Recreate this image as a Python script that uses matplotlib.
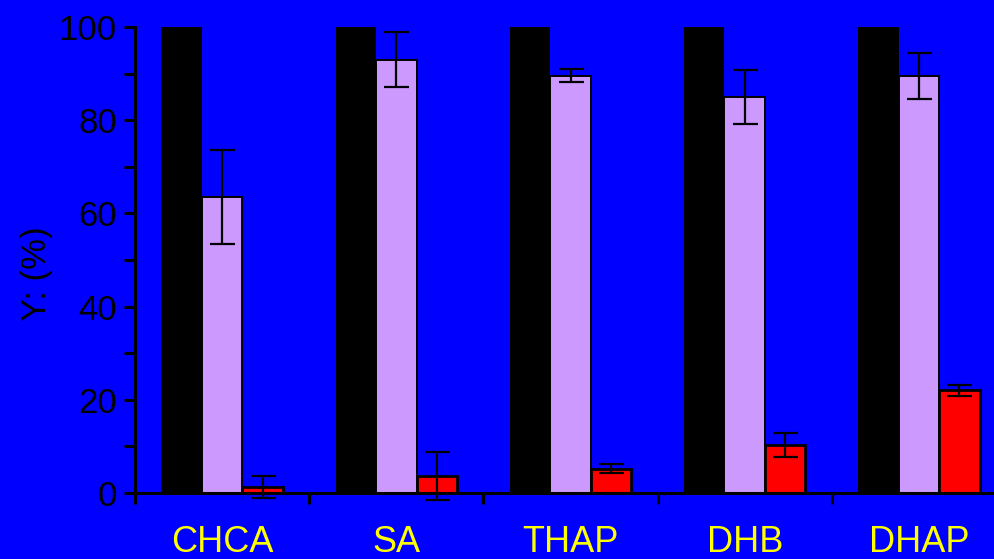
import numpy as np
import matplotlib
matplotlib.use("Agg")
import matplotlib.pyplot as plt

plt.rcParams['font.family'] = ['Liberation Sans', 'DejaVu Sans']

matrices = ["CHCA", "SA", "THAP", "DHB", "DHAP"]
black_vals = [100, 100, 100, 100, 100]
lilac_vals = [63.5, 93.0, 89.5, 85.0, 89.5]
lilac_err = [10.0, 5.9, 1.4, 5.8, 5.0]
red_vals = [1.3, 3.6, 5.2, 10.3, 22.0]
red_err = [2.3, 5.2, 1.0, 2.6, 1.1]

W, H = 994, 559
fig = plt.figure(figsize=(W / 100, H / 100), dpi=100, facecolor='#0000FF')
ax = fig.add_axes([135 / W, (H - 493) / H, 871 / W, 466 / H])
ax.set_facecolor('#0000FF')

x = np.arange(len(matrices))
bw = 0.232
ekw = dict(elinewidth=1.6, capthick=1.6, ecolor='black')

ax.bar(x - bw, black_vals, bw, color='black', edgecolor='black', linewidth=0, zorder=2)
ax.bar(x, lilac_vals, bw, color='#CC99FF', edgecolor='black', linewidth=1.4, zorder=2)
ax.errorbar(x, lilac_vals, yerr=lilac_err, fmt='none', capsize=9, zorder=3, **ekw)
ax.bar(x + bw, red_vals, bw, color='#FF0000', edgecolor='black', linewidth=2, zorder=2)
ax.errorbar(x + bw, red_vals, yerr=red_err, fmt='none', capsize=9, zorder=3, **ekw)

ax.set_xlim(-0.5, len(matrices) - 0.5)
ax.set_ylim(0, 100)

for s in ['top', 'right']:
    ax.spines[s].set_visible(False)
for s in ['left', 'bottom']:
    ax.spines[s].set_linewidth(2.2)
    ax.spines[s].set_color('black')
    ax.spines[s].set_clip_on(False)
for art in ax.patches + ax.lines + ax.collections:
    art.set_clip_on(False)

ax.set_yticks(np.arange(0, 101, 20))
ax.set_yticks(np.arange(10, 100, 20), minor=True)
ax.tick_params(axis='y', which='both', direction='out', length=8, width=2.2,
               labelsize=25, pad=5, colors='black')

# group boundaries get the tick marks, group centres get the names
ax.set_xticks(x - 0.5)
ax.set_xticklabels([])
ax.tick_params(axis='x', which='major', direction='out', length=8, width=2.2)
ax.set_xticks(x, minor=True)
ax.set_xticklabels(matrices, minor=True)
ax.tick_params(axis='x', which='minor', length=0, labelsize=26, pad=23,
               labelcolor='#FFFF00')

ax.set_ylabel("Y: (%)", fontsize=25, color='black')
ax.yaxis.set_label_coords((53 - 135) / 871, 0.47)

fig.savefig("out.png", dpi=100, facecolor=fig.get_facecolor())
